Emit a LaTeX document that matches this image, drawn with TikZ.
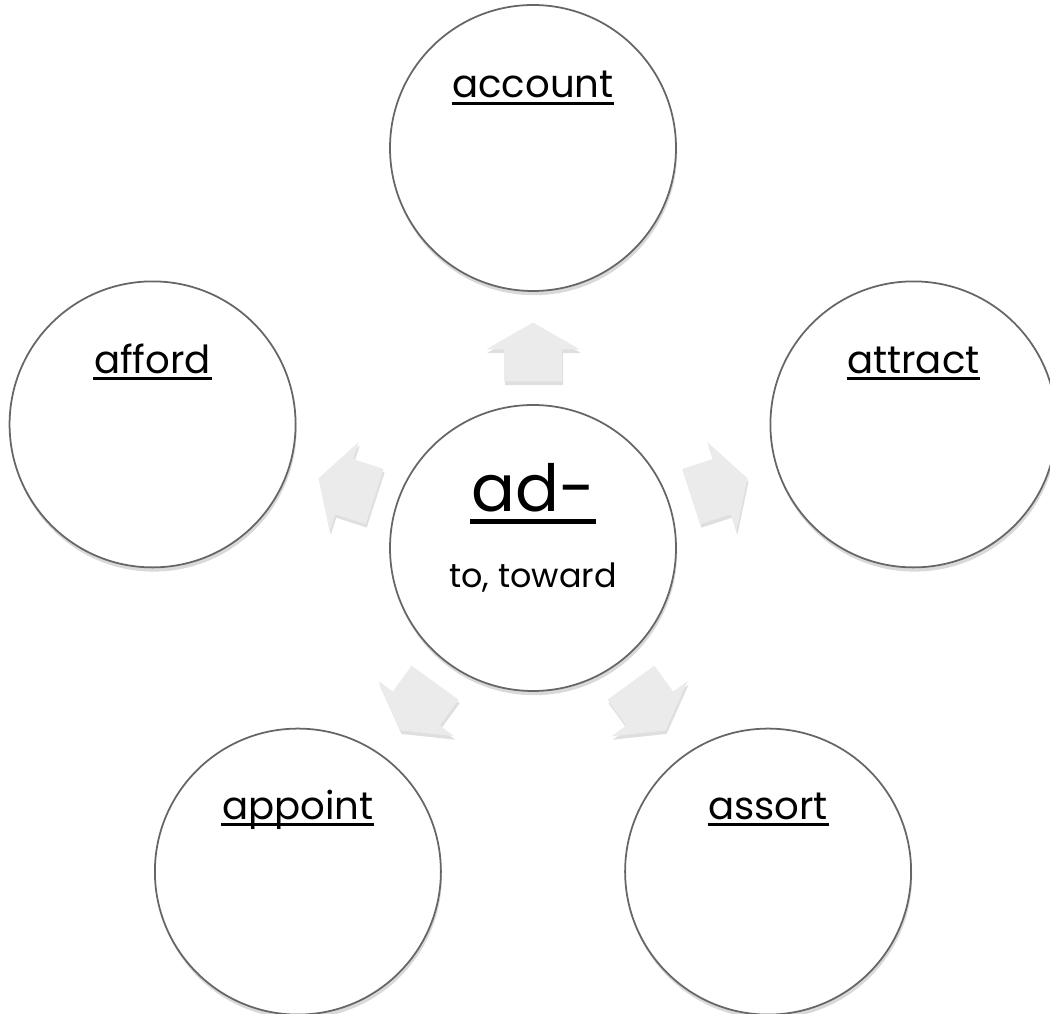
\documentclass[tikz,border=0pt]{standalone}
\usepackage{fontspec}
\setmainfont{Poppins}
\usetikzlibrary{calc,shadows}

\begin{document}
\begin{tikzpicture}[
  word/.style={shape=circle, draw=black!60, line width=0.5pt, fill=white,
    minimum size=2.86cm, inner sep=0pt,
    drop shadow={opacity=0.3, shadow xshift=0.3pt, shadow yshift=-1.2pt}},
  wordtext/.style={anchor=base, inner sep=0pt, font=\fontsize{11}{13}\selectfont},
  blockarrow/.style={fill=black!8, draw=none,
    drop shadow={opacity=0.25, shadow xshift=0.3pt, shadow yshift=-1pt}}
]
\useasboundingbox (0,0) rectangle (10.5,-10.14);

\node[word] (ad) at (5.33,-5.48) {};

\node[word] (acc) at ($(ad)+(90:4)$) {};
\node[word] (att) at ($(ad)+(18:4)$) {};
\node[word] (ass) at ($(ad)+(-54:4)$) {};
\node[word] (app) at ($(ad)+(-126:4)$) {};
\node[word] (aff) at ($(ad)+(162:4)$) {};

% block arrows from the root to each word
\foreach \w/\a in {acc/90,att/18,ass/-54,app/-126,aff/162}
  \fill[blockarrow, shift={($(ad)!0.49!(\w)$)}, rotate=\a]
    (-0.295,-0.29) -- (0.025,-0.29) -- (0.025,-0.47) -- (0.295,0)
    -- (0.025,0.47) -- (0.025,0.29) -- (-0.295,0.29) -- cycle;

\node[anchor=base, inner sep=0pt, font=\fontsize{18.5}{22}\selectfont] (adT) at ([yshift=0.36cm]ad.center) {ad-};
\node[anchor=base, font=\fontsize{9.5}{12}\selectfont] (adM) at ([yshift=-0.40cm]ad.center) {to, toward};
\draw[line width=1.4pt] ([yshift=-2.8pt]adT.base west) -- ([yshift=-2.8pt]adT.base east);

\node[wordtext] (accT) at ([yshift=0.50cm]acc.center) {account};
\node[wordtext] (attT) at ([yshift=0.51cm]att.center) {attract};
\node[wordtext] (assT) at ([yshift=0.52cm]ass.center) {assort};
\node[wordtext] (appT) at ([yshift=0.52cm]app.center) {appoint};
\node[wordtext] (affT) at ([yshift=0.51cm]aff.center) {afford};

% underlines
\foreach \t in {accT,attT,assT,appT,affT}
  \draw[line width=0.8pt] ([yshift=-1.5pt]\t.base west) -- ([yshift=-1.5pt]\t.base east);

\end{tikzpicture}
\end{document}
